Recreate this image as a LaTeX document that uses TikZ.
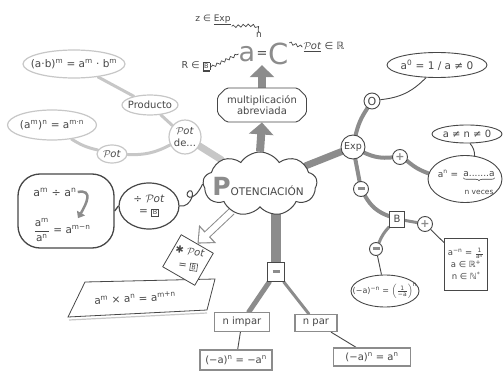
\documentclass[tikz,border=0pt]{standalone}
\usepackage{amsmath}
\usepackage{fontspec}
\setmainfont{DejaVu Sans}
\usetikzlibrary{shapes.symbols,shapes.misc,shapes.geometric,arrows.meta,decorations.pathmorphing,decorations.pathreplacing,backgrounds,calc}
\definecolor{ink}{gray}{0.28}
\definecolor{lead}{gray}{0.55}
\definecolor{pale}{gray}{0.78}
\newcommand\su[1]{\textsuperscript{#1}}
\newcommand\potx{$\mathcal{P}$\kern-0.5pt\textit{ot}}
\newcommand\bw{{\setlength\fboxsep{1pt}\setlength\fboxrule{0.6pt}\fbox{\fontsize{6.5}{6.5}\selectfont B}}}
\newcommand\mn{\textcolor{lead}{\rule[1.2pt]{7pt}{3pt}}}
\newcommand\pl{\textcolor{lead}{\fontsize{11}{11}\selectfont\bfseries +}}
\tikzset{
  base/.style={font=\fontsize{10}{11.5}\selectfont, text=ink, align=center, inner sep=1pt},
  oval/.style={base, ellipse, draw=pale, line width=1.2pt, fill=white, inner xsep=-9pt, inner ysep=-2pt},
  circ/.style={base, circle, draw=ink, line width=0.9pt, fill=white, inner sep=-2pt},
  boxn/.style={base, rectangle, draw=lead, line width=1.2pt, fill=white},
  limb/.style={draw=lead, line width=#1, line cap=round},
  soft/.style={draw=pale, line width=#1, line cap=round},
  thin/.style={draw=ink, line width=0.9pt},
  wavy/.style={draw=ink, line width=0.7pt, decorate, decoration={snake, amplitude=1.3pt, segment length=5pt}},
  fat/.style={draw=lead, line width=8pt, -{Triangle[length=12pt,width=24pt]}},
}
\begin{document}
\begin{tikzpicture}[x=1pt,y=-1pt]
\useasboundingbox (0,0) rectangle (503,377);

% ---------- centre ----------
\node[cloud, cloud puffs=9, cloud puff arc=115, aspect=1.8, draw=ink, line width=1pt, fill=white, minimum width=114pt, minimum height=64pt, inner sep=0pt] (cloud) at (260,184) {};
\node[text=ink, inner sep=0pt] (title) at (258,186) {\textcolor{lead}{\fontsize{25}{25}\selectfont\bfseries P}\fontsize{10.5}{11}\selectfont OTENCIACIÓN};

% ---------- top ----------
\node[chamfered rectangle, chamfered rectangle xsep=5pt, draw=ink, line width=0.9pt, fill=white, minimum width=89pt, minimum height=34pt, rounded corners=2pt, base, inner sep=0pt] (mult) at (262,105) {multiplicación\\abreviada};
\node[text=lead, font=\fontsize{27}{27}\selectfont, inner sep=0pt] (fa) at (247,54) {a};
\node[base, font=\fontsize{9}{9}\selectfont, inner sep=0pt] (fn) at (259,35) {n};
\node[text=ink, font=\fontsize{13}{13}\selectfont, inner sep=0pt] (feq) at (262,55) {=};
\node[text=lead, font=\fontsize{29}{29}\selectfont, inner sep=0pt] (fC) at (279,54) {C};
\node[base, font=\fontsize{9}{10}\selectfont] (zexp) at (213,20) {z ∈ \underline{Exp}};
\node[base, font=\fontsize{9.5}{10}\selectfont] (rb) at (196,67) {R ∈ \underline{\bw}};
\node[base, font=\fontsize{10}{10}\selectfont] (potr) at (324,47) {\underline{\potx} ∈ ℝ};

% ---------- left top ----------
\node[oval, minimum width=102pt, minimum height=28pt, font=\fontsize{10.5}{12}\selectfont] (ab) at (74,64) {(a·b)\su{m} = a\su{m} · b\su{m}};
\node[oval, minimum width=56pt, minimum height=20pt] (prod) at (150,105) {Producto};
\node[oval, minimum width=32pt, minimum height=34pt] (potde) at (185,137) {\potx\\de...};
\node[oval, minimum width=89pt, minimum height=30pt, font=\fontsize{10.5}{12}\selectfont] (amn) at (52,125) {(a\su{m})\su{n} = a\su{m·n}};
\node[oval, minimum width=30pt, minimum height=18pt] (pot) at (112,154) {\potx};

% ---------- left ----------
\node[draw=ink, line width=1.3pt, rounded corners=22pt, minimum width=96pt, minimum height=74pt, fill=white] (bub) at (66,211) {};
\node[base, font=\fontsize{11}{12}\selectfont] (dtop) at (55,192) {a\su{m} ÷ a\su{n}};
\node[base, font=\fontsize{10.5}{12}\selectfont] (dbot) at (62,230) {$\dfrac{\text{a}^{\text{m}}}{\text{a}^{\text{n}}}$ = a\su{m−n}};
\node[draw=ink, line width=1.2pt, ellipse, minimum width=60pt, minimum height=46pt, fill=white, base, inner sep=-6pt, font=\fontsize{10.5}{12}\selectfont] (dpot) at (149,206) {÷ \potx\\= \bw};

% ---------- lower left ----------
\draw[ink, line width=0.8pt, fill=white] (85,282) -- (215,279) -- (207,310) -- (68,317) -- cycle;
\draw[pale, line width=1.2pt] (69,320) -- (207,313);
\node[base, rotate=3, font=\fontsize{10.5}{12}\selectfont] (plate) at (135,298) {a\su{m} × a\su{n} = a\su{m+n}};
\node[draw=ink, line width=0.8pt, fill=white, minimum size=37pt, rotate=-30, inner sep=0pt] (msq) at (188,260) {};
\node[base, rotate=-8, font=\fontsize{10}{14}\selectfont] (mtxt) at (189,259) {✱ \potx\\= \bw};

% ---------- bottom ----------
\node[boxn, draw=ink, line width=0.8pt, minimum width=17pt, minimum height=19pt] (mbox) at (276,272) {\mn};
\node[boxn, minimum width=55pt, minimum height=19pt] (nimp) at (242,322) {n impar};
\node[boxn, minimum width=42pt, minimum height=17pt] (npar) at (316,323) {n par};
\node[boxn, minimum width=72pt, minimum height=20pt] (fimp) at (236,360) {(−a)\su{n} = −a\su{n}};
\node[boxn, minimum width=77pt, minimum height=18pt] (fpar) at (372,357) {(−a)\su{n} = a\su{n}};

% ---------- right ----------
\node[circ, minimum size=24pt, font=\fontsize{9.5}{10}\selectfont] (exp) at (353,147) {Exp};
\node[circ, minimum size=16pt, font=\fontsize{11}{11}\selectfont] (zero) at (372,101) {O};
\node[oval, draw=ink, line width=0.9pt, minimum width=100pt, minimum height=25pt, font=\fontsize{10.5}{12}\selectfont] (a0) at (437,65) {a\su{0} = 1 / a ≠ 0};
\node[circ, minimum size=15pt] (p1) at (400,157) {\pl};
\node[oval, draw=ink, line width=0.9pt, minimum width=74pt, minimum height=47pt] (an) at (465,179) {};
\node[base, font=\fontsize{9}{9}\selectfont, inner sep=0pt] (anl) at (448,174) {a\su{n} =};
\node[base, font=\fontsize{9}{9}\selectfont, inner sep=0pt] (anaa) at (479,174) {a.......a};
\node[base, font=\fontsize{7.5}{8}\selectfont, inner sep=0pt] (anv) at (479,192) {n veces};
\node[oval, draw=ink, line width=0.9pt, minimum width=70pt, minimum height=18pt] (anz) at (467,134) {a ≠ n ≠ 0};
\node[circ, minimum size=15pt] (m1) at (361,189) {\mn};
\node[boxn, draw=ink, line width=0.8pt, minimum width=15pt, minimum height=16pt] (bb) at (397,219) {B};
\node[circ, minimum size=15pt] (p2) at (425,224) {\pl};
\node[boxn, draw=ink, line width=0.8pt, minimum width=43pt, minimum height=52pt, inner sep=0pt, font=\fontsize{8.5}{12}\selectfont] (rect) at (466,264) {a\su{−n} = $\frac{\text{1}}{\text{a}^{\text{n}}}$\\a ∈ ℝ\su{+}\\n ∈ ℕ\su{*}};
\node[circ, minimum size=13pt] (m2) at (376,249) {\mn};
\node[oval, draw=ink, line width=0.9pt, minimum width=68pt, minimum height=32pt, font=\fontsize{8}{9}\selectfont] (neg) at (385,291) {(−a)\su{−n} = $\left(\frac{\text{1}}{\text{−a}}\right)^{\text{n}}$};
\draw[ink, line width=0.6pt, decorate, decoration={brace, amplitude=3pt}] ($(anaa.south east)+(0,1)$) -- ($(anaa.south west)+(0,1)$);

% ---------- connectors (behind) ----------
\begin{pgfonlayer}{background}
  \draw[fat] (cloud.north) -- (mult.south);
  \draw[fat] (mult.north) -- (mult.north |- fC.south);
  \draw[wavy] (zexp.south east) to[out=0,in=100] (fn.north);
  \draw[wavy] (rb.east) -- (fa.west);
  \draw[wavy] (fC.north east) -- (potr.west);
  % left top
  \draw[soft=3pt] (ab) -- (prod);
  \draw[soft=3pt] (prod) -- (potde);
  \draw[soft=3pt] (amn) to[bend right=10] (pot);
  \draw[soft=3pt] (pot) to[bend right=15] (potde);
  \draw[soft=7pt] (potde) -- (cloud);
  % left
  \draw[ink, line width=1.3pt] (bub.east) -- (dpot.west);
  \draw[ink, line width=1pt] (dpot.east) .. controls (192,208) and (196,188) .. (189,191) .. controls (183,195) and (192,206) .. (cloud.west);
  % hollow arrow
  \draw[draw=lead, line width=8pt, -{Triangle[length=14pt,width=24pt]}] (cloud.224) -- (msq.north);
  \draw[draw=white, line width=6pt, -{Triangle[length=11pt,width=19pt]}, shorten >=1.7pt] (cloud.224) -- (msq.north);
  % bottom
  \draw[limb=10pt] (mbox |- cloud.center) -- (mbox);
  \draw[limb=5pt] (mbox) -- (nimp);
  \draw[limb=3pt] (mbox) -- (npar);
  \draw[thin] (nimp) -- (fimp);
  \draw[thin] (npar) -- (fpar);
  % right
  \draw[limb=7pt] (cloud) -- (exp);
  \draw[limb=4pt] (exp) to[bend left=10] (zero);
  \draw[thin] (zero) to[bend right=20] (a0);
  \draw[limb=4pt] (exp) to[bend right=15] (p1);
  \draw[limb=4pt] (p1) to[bend right=10] (an);
  \draw[thin] (an) to[bend right=20] (anz);
  \draw[limb=4pt] (exp) -- (m1);
  \draw[limb=4pt] (m1) to[bend right=20] (bb);
  \draw[limb=3pt] (bb) -- (p2);
  \draw[thin] (p2) -- (rect);
  \draw[limb=3pt] (bb) to[bend right=10] (m2);
  \draw[thin] (m2) -- (neg);
\end{pgfonlayer}
% curved arrow inside bubble
\draw[lead, line width=2.5pt, -{Triangle[length=6pt,width=9pt]}] (dtop.east) to[out=10,in=60,looseness=1.6] ($(dbot.north)+(16,1)$);
\end{tikzpicture}
\end{document}
